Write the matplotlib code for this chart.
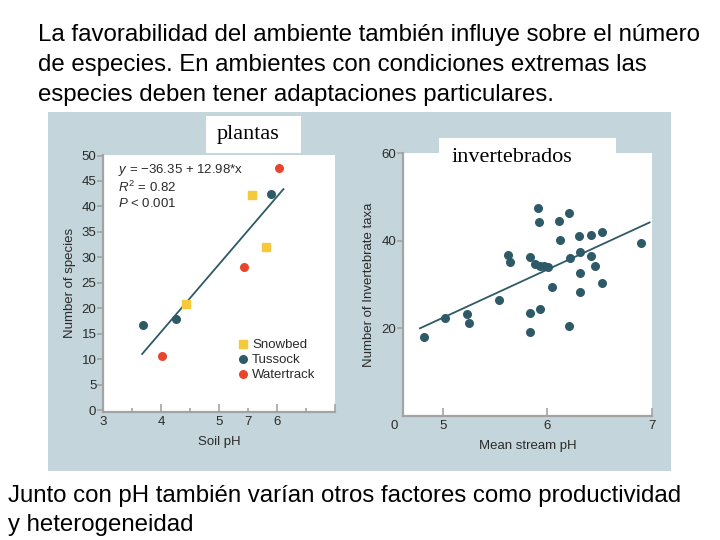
import matplotlib
matplotlib.use("Agg")
import matplotlib.pyplot as plt
from matplotlib.patches import Rectangle

plt.rcParams["font.family"] = ["Liberation Sans", "DejaVu Sans"]
plt.rcParams["mathtext.fontset"] = "custom"
plt.rcParams["mathtext.rm"] = "Liberation Sans"
plt.rcParams["mathtext.it"] = "Liberation Sans:italic"

W, H = 720, 540

# ---- left chart: plant species vs soil pH ----
snow_x = [4.43, 5.56, 5.81]
snow_y = [20.8, 42.3, 32.1]
tuss_x = [3.69, 4.25, 5.89]
tuss_y = [16.7, 17.8, 42.5]
water_x = [4.02, 5.43, 6.04]
water_y = [10.6, 28.0, 47.5]
fit1_x = [3.67, 6.11]
fit1_y = [11.0, 43.4]

# ---- right chart: invertebrate taxa vs stream pH ----
inv_x = [4.82, 5.02, 5.23, 5.25, 5.54, 5.62, 5.64, 5.83, 5.83, 5.83,
         5.91, 5.92, 5.88, 5.93, 5.97, 6.01, 5.93, 6.04, 6.11, 6.12,
         6.21, 6.22, 6.21, 6.30, 6.31, 6.31, 6.31, 6.42, 6.42, 6.46,
         6.52, 6.52, 6.90]
inv_y = [17.9, 22.4, 23.2, 21.1, 26.5, 36.8, 35.2, 36.4, 23.6, 19.2,
         47.6, 44.4, 34.7, 34.3, 34.2, 34.1, 24.4, 29.4, 44.5, 40.2,
         46.4, 36.0, 20.5, 41.2, 37.5, 32.6, 28.2, 41.3, 36.5, 34.3,
         42.1, 30.4, 39.4]
fit2_x = [4.78, 6.98]
fit2_y = [20.0, 44.2]

left_xticks = [3, 4, 5, 6, 7]
left_xticklabels = ["3", "4", "5", "6", ""]
left_minor = [3.5, 4.5, 5.5, 6.5]
left_minorlabels = ["", "", "7", ""]
left_yticks = list(range(0, 51, 5))
right_xticks = [5, 6, 7]
right_yticks = [20, 40, 60]

title_lines = ["La favorabilidad del ambiente también influye sobre el número",
               "de especies. En ambientes con condiciones extremas las",
               "especies deben tener adaptaciones particulares."]
bottom_lines = ["Junto con pH también varían otros factores como productividad",
                "y heterogeneidad"]

panel = "#c4d6db"
teal = "#2e5a67"
yellow = "#f6c83c"
red = "#e9452c"
spine = "#a3a3a3"
ink = "#2a2a2a"


def box(l, t, r, b):
    # pixel box (top-left origin) -> figure fraction rect
    return [l / W, 1 - b / H, (r - l) / W, (b - t) / H]


fig = plt.figure(figsize=(7.2, 5.4), dpi=100)
fig.patch.set_facecolor("white")
fig.patches.append(Rectangle((48 / W, 1 - 471 / H), 623 / W, 359 / H,
                             transform=fig.transFigure, facecolor=panel,
                             edgecolor="none", zorder=-1))


def style(ax):
    for s in ["top", "right"]:
        ax.spines[s].set_visible(False)
    for s in ["left", "bottom"]:
        ax.spines[s].set_color(spine)
        ax.spines[s].set_linewidth(1.6)
    ax.tick_params(axis="y", direction="out", length=4, width=1.2,
                   color=spine, labelsize=9.5, labelcolor=ink, pad=1)
    ax.tick_params(axis="x", which="major", direction="in", length=6, width=1.2,
                   color=spine, labelsize=9.5, labelcolor=ink, pad=3)
    ax.tick_params(axis="x", which="minor", direction="in", length=3, width=1.2,
                   color=spine, labelsize=9.5, labelcolor=ink, pad=3)


# left axes
ax1 = fig.add_axes(box(103.3, 155, 335, 411.7))
style(ax1)
ax1.plot(fit1_x, fit1_y, color=teal, lw=1.3, zorder=2)
ax1.scatter(snow_x, snow_y, marker="s", s=26, color=yellow, label="Snowbed", zorder=3)
ax1.scatter(tuss_x, tuss_y, marker="o", s=30, color=teal, label="Tussock", zorder=3)
ax1.scatter(water_x, water_y, marker="o", s=30, color=red, label="Watertrack", zorder=3)
ax1.set_xlim(3, 7)
ax1.set_ylim(-0.33, 50.1)
ax1.set_yticks(left_yticks)
ax1.set_xticks(left_xticks)
ax1.set_xticklabels(left_xticklabels)
ax1.set_xticks(left_minor, minor=True)
ax1.set_xticklabels(left_minorlabels, minor=True)
ax1.set_xlabel("Soil pH", fontsize=9.5, color=ink, labelpad=6)
ax1.set_ylabel("Number of species", fontsize=9.5, color=ink, labelpad=4)
ax1.text(0.063, 0.94, r"$y$ = −36.35 + 12.98*x", transform=ax1.transAxes,
         fontsize=9.5, color=ink, va="center")
ax1.text(0.063, 0.875, r"$R^2$ = 0.82", transform=ax1.transAxes,
         fontsize=9.5, color=ink, va="center")
ax1.text(0.063, 0.813, r"$P$ < 0.001", transform=ax1.transAxes,
         fontsize=9.5, color=ink, va="center")
ax1.legend(loc="upper left", bbox_to_anchor=(0.58, 0.285), frameon=False,
           borderpad=0, handlelength=0.8, handletextpad=0.3, labelspacing=0.2,
           fontsize=9.5, labelcolor=ink, borderaxespad=0)

# right axes
ax2 = fig.add_axes(box(403.3, 153.3, 651.7, 415.8))
style(ax2)
ax2.plot(fit2_x, fit2_y, color=teal, lw=1.3, zorder=2)
ax2.scatter(inv_x, inv_y, marker="o", s=30, color=teal, zorder=3)
ax2.set_xlim(4.62, 7)
ax2.set_ylim(0, 60)
ax2.set_yticks(right_yticks)
ax2.set_xticks(right_xticks)
ax2.set_xlabel("Mean stream pH", fontsize=9.5, color=ink, labelpad=6)
ax2.set_ylabel("Number of Invertebrate taxa", fontsize=9.5, color=ink, labelpad=5)
ax2.text(-0.02, -0.015, "0", transform=ax2.transAxes, fontsize=9.5, color=ink,
         ha="right", va="top")

# overlaid white label boxes
fig.patches.append(Rectangle((206 / W, 1 - 153 / H), 95 / W, 37 / H,
                             transform=fig.transFigure, facecolor="white",
                             edgecolor="none", zorder=1))
fig.text(248 / W, 1 - 135 / H, "plantas", family="Liberation Serif",
         fontsize=16, ha="center", va="center")
fig.patches.append(Rectangle((439 / W, 1 - 170 / H), 177 / W, 32 / H,
                             transform=fig.transFigure, facecolor="white",
                             edgecolor="none", zorder=1))
fig.text(512 / W, 1 - 158 / H, "invertebrados", family="Liberation Serif",
         fontsize=16, ha="center", va="center")

# slide text
for i, line in enumerate(title_lines):
    fig.text(38 / W, 1 - (41.5 + 29.5 * i) / H, line,
             fontsize=17.3, va="baseline")
for i, line in enumerate(bottom_lines):
    fig.text(8 / W, 1 - (502 + 29 * i) / H, line,
             fontsize=17.3, va="baseline")

fig.savefig("out.png", dpi=100)
